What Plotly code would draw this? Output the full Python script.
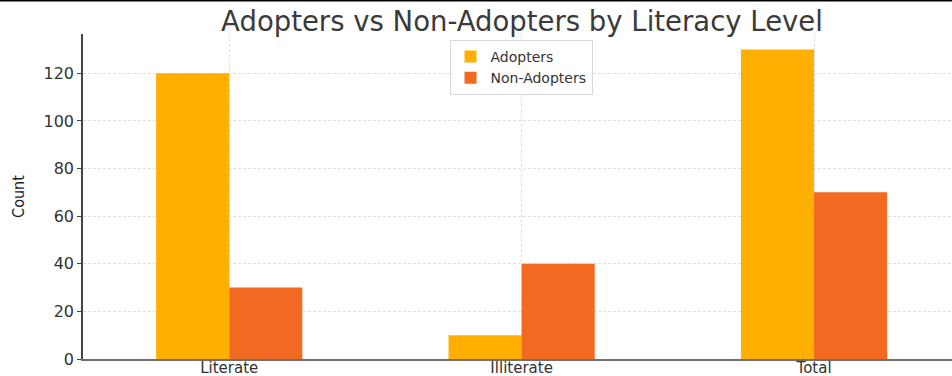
import plotly.graph_objects as go

categories = ["Literate", "Illiterate", "Total"]
adopters = [120, 10, 130]
non_adopters = [30, 40, 70]
series_names = ["Adopters", "Non-Adopters"]
colors = ["#FFAF00", "#F26A22"]

W, H = 952, 376
left, right, top, bottom = 83, 952, 34, 359

fig = go.Figure()
for name, vals, col in zip(series_names, [adopters, non_adopters], colors):
    fig.add_trace(go.Bar(x=categories, y=vals, name=name,
                         marker=dict(color=col, line=dict(width=0))))

font_main = "DejaVu Sans"
fig.update_layout(
    width=W, height=H,
    margin=dict(l=left, r=W - right, t=top, b=H - bottom, pad=0, autoexpand=False),
    paper_bgcolor="white", plot_bgcolor="white",
    barmode="group", bargap=0.5, bargroupgap=0,
    title=dict(text="Adopters vs Non-Adopters by Literacy Level",
               font=dict(family=font_main, size=27.5, color="#3a3a3a"),
               x=(522) / W, xref="container", xanchor="center",
               y=1 - 21 / H, yref="container", yanchor="middle"),
    legend=dict(x=(521 - left) / (right - left), xanchor="center",
                y=(bottom - 40) / (bottom - top), yanchor="top",
                bgcolor="rgba(255,255,255,0.85)", bordercolor="#d8d8d8", borderwidth=1,
                font=dict(family=font_main, size=14, color="#333333"),
                tracegroupgap=0, itemwidth=30),
    showlegend=True,
)
fig.update_xaxes(
    type="category", automargin=False,
    range=[-0.5, 2 + (952 - 814) / 292.5],
    showgrid=True, gridcolor="#e0e0e0", griddash="3px,2px", gridwidth=1,
    showline=True, linecolor="#707070", linewidth=2,
    ticks="", ticklabelstandoff=-6,
    tickfont=dict(family=font_main, size=15, color="#333333"),
    zeroline=False,
)
fig.update_yaxes(
    range=[0, 136.5], automargin=False,
    tickvals=[0, 20, 40, 60, 80, 100, 120],
    showgrid=True, gridcolor="#e0e0e0", griddash="3px,2px", gridwidth=1,
    showline=True, linecolor="#444444", linewidth=1.5,
    ticks="outside", ticklen=4, tickcolor="#444444",
    tickfont=dict(family=font_main, size=16, color="#333333"),
    title=dict(text="Count", standoff=15,
               font=dict(family="DejaVu Sans Condensed, Liberation Sans Narrow, DejaVu Sans", size=16, color="#222222")),
    zeroline=False,
)
fig.add_shape(type="line", xref="paper", yref="paper",
              x0=-left / (right - left), x1=1.0,
              y0=(bottom - 0.5) / (bottom - top), y1=(bottom - 0.5) / (bottom - top),
              line=dict(color="black", width=2))

fig.write_html("out.html")
